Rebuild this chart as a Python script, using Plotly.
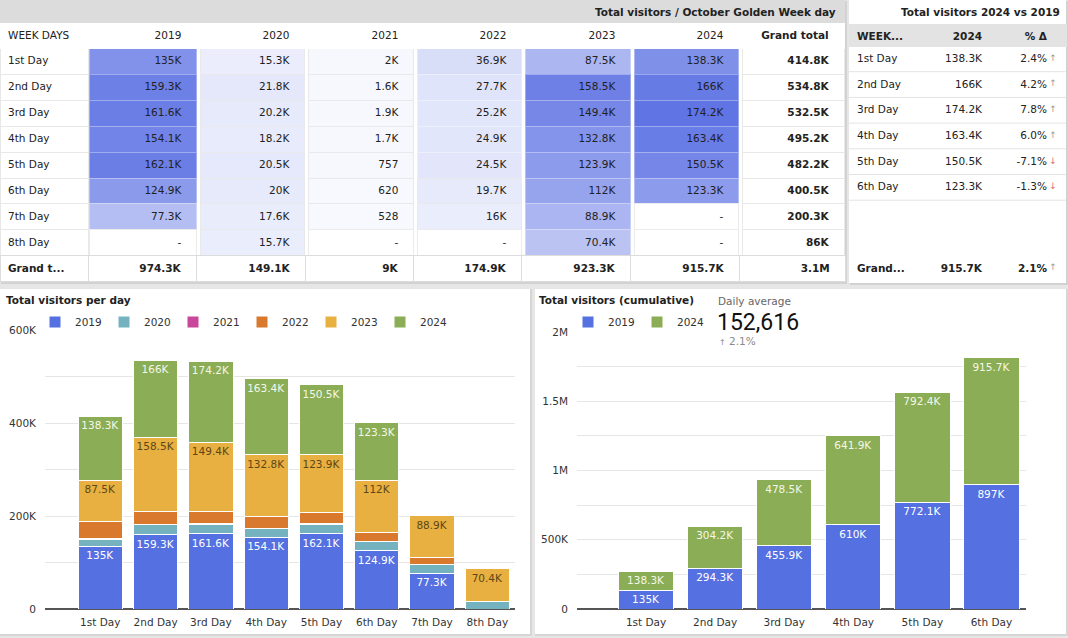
import plotly.graph_objects as go

W, H = 1068, 638
def X(px): return px / W
def Y(py): return 1 - py / H

# ---------------- data ----------------
DAYS = ["1st Day", "2nd Day", "3rd Day", "4th Day", "5th Day", "6th Day", "7th Day", "8th Day"]
YEARS = ["2019", "2020", "2021", "2022", "2023", "2024"]
V2019 = [135000, 159300, 161600, 154100, 162100, 124900, 77300, None]
V2020 = [15300, 21800, 20200, 18200, 20500, 20000, 17600, 15700]
V2021 = [2000, 1600, 1900, 1700, 757, 620, 528, None]
V2022 = [36900, 27700, 25200, 24900, 24500, 19700, 16000, None]
V2023 = [87500, 158500, 149400, 132800, 123900, 112000, 88900, 70400]
V2024 = [138300, 166000, 174200, 163400, 150500, 123300, None, None]
DAY_TOTALS = [414800, 534800, 532500, 495200, 482200, 400500, 200300, 86000]
YEAR_TOTALS = [974300, 149100, 9000, 174900, 923300, 915700]
GRAND_TOTAL = 3100000

CMP_DAYS = ["1st Day", "2nd Day", "3rd Day", "4th Day", "5th Day", "6th Day"]
CMP_2024 = [138300, 166000, 174200, 163400, 150500, 123300]
CMP_PCT = [2.4, 4.2, 7.8, 6.0, -7.1, -1.3]
CMP_TOTAL_2024 = 915700
CMP_TOTAL_PCT = 2.1

CUM_DAYS = ["1st Day", "2nd Day", "3rd Day", "4th Day", "5th Day", "6th Day"]
CUM_2019 = [135000, 294300, 455900, 610000, 772100, 897000]
CUM_2024 = [138300, 304200, 478500, 641900, 792400, 915700]

DAILY_AVG = 152616
DAILY_AVG_PCT = 2.1

Y1_TICKS = [0, 100000, 200000, 300000, 400000, 500000, 600000]
Y1_TEXT = ["0", "", "200K", "", "400K", "", "600K"]
Y2_TICKS = [0, 250000, 500000, 750000, 1000000, 1250000, 1500000, 1750000, 2000000]
Y2_TEXT = ["0", "", "500K", "", "1M", "", "1.5M", "", "2M"]

# ---------------- styling ----------------
FONT = "DejaVu Sans"
FS = 10.5
TXT = "#222222"
COLORS = {"2019": "#5570e1", "2020": "#74b2c0", "2021": "#c8479b",
          "2022": "#d8792e", "2023": "#e8b040", "2024": "#8bad55"}
LABEL_COLORS = {"2019": "#ffffff", "2023": "#5e4716", "2024": "#f3f8e8"}
UP_COLOR = "#9a9a9a"
DOWN_COLOR = "#e06c7c"
NB = "\u00a0"
PAD = NB * 2


def fmt(v):
    if v is None:
        return "-"
    if v >= 1e6:
        s = f"{v/1e6:.1f}".rstrip("0").rstrip(".")
        return s + "M"
    if v >= 1000:
        s = f"{v/1000:.1f}".rstrip("0").rstrip(".")
        return s + "K"
    return str(int(v))


SERIES = [V2019, V2020, V2021, V2022, V2023, V2024]
VMAX = max(v for s in SERIES for v in s if v is not None)
BASE = (84, 106, 226)


def heat(v):
    if v is None:
        return "#ffffff", "#ebebeb"
    t = 0.04 + 0.89 * v / VMAX
    c = tuple(round(255 + (b - 255) * t) for b in BASE)
    if t < 0.16:
        line = "#e9e9ec"
    else:
        l = tuple(round(x + (255 - x) * 0.35) for x in c)
        line = "rgb(%d,%d,%d)" % l
    return "rgb(%d,%d,%d)" % c, line


def tfont(bold=False, size=FS, color=TXT):
    d = dict(family=FONT, size=size, color=color)
    if bold:
        d["weight"] = "bold"
    return d


fig = go.Figure()

# ---------------- cards (background) ----------------
shapes = []
def rect(x0, y0, x1, y1, fill, layer="below"):
    shapes.append(dict(type="rect", xref="paper", yref="paper",
                       x0=X(x0), x1=X(x1), y0=Y(y1), y1=Y(y0),
                       fillcolor=fill, line=dict(width=0), layer=layer))

rect(1, 1, 847, 284, "#d2d2d2")
rect(850, 1, 1068, 285, "#d2d2d2")
rect(0, 289, 532, 636, "#d6d6d6")
rect(535, 289, 1068, 636, "#d6d6d6")
rect(0, 0, 845, 282, "#ffffff")
rect(0, 0, 845, 23, "#dcdcdc")
rect(849, 0, 1066, 283, "#ffffff")
rect(0, 289, 530, 634, "#ffffff")
rect(535, 289, 1066, 634, "#ffffff")

# ---------------- main table ----------------
HEAD_TOP = 23
HEAD_H = 25.5
ROW_H = 25.9
main_bottom = HEAD_TOP + HEAD_H + ROW_H * len(DAYS)

col_spans = [(0, 88.5), (89, 196), (200, 305), (308, 413), (417, 521), (525, 630), (634, 739), (742, 845)]

fig.add_trace(go.Table(
    domain=dict(x=[X(col_spans[0][0]), X(col_spans[0][1])], y=[Y(main_bottom + 6), Y(HEAD_TOP)]),
    header=dict(values=["WEEK" + NB + "DAYS"], align="left", height=HEAD_H,
                fill_color="#ffffff", line=dict(color="#ffffff", width=1), font=tfont()),
    cells=dict(values=[[d.replace(" ", NB) for d in DAYS]], align="left", height=ROW_H,
               fill_color="#ffffff", line=dict(color="#e8e8e8", width=1), font=tfont()),
))

for i, (yr, vals) in enumerate(zip(YEARS, SERIES)):
    fills, lines = zip(*[heat(v) for v in vals])
    x0, x1 = col_spans[i + 1]
    fig.add_trace(go.Table(
        domain=dict(x=[X(x0), X(x1)], y=[Y(main_bottom + 6), Y(HEAD_TOP)]),
        header=dict(values=[yr + PAD], align="right", height=HEAD_H,
                    fill_color="#ffffff", line=dict(color="#ffffff", width=1), font=tfont()),
        cells=dict(values=[[fmt(v) + PAD for v in vals]], align="right", height=ROW_H,
                   fill_color=[list(fills)], line=dict(color=[list(lines)], width=1),
                   font=tfont()),
    ))

x0, x1 = col_spans[-1]
fig.add_trace(go.Table(
    domain=dict(x=[X(x0), X(x1)], y=[Y(main_bottom + 6), Y(HEAD_TOP)]),
    header=dict(values=["Grand" + NB + "total" + PAD], align="right", height=HEAD_H,
                fill_color="#ffffff", line=dict(color="#ffffff", width=1), font=tfont(True)),
    cells=dict(values=[[fmt(v) + PAD for v in DAY_TOTALS]], align="right",
               height=ROW_H, fill_color="#ffffff", line=dict(color="#e8e8e8", width=1),
               font=tfont(True)),
))

grand_bounds = [0, 88.5, 196, 305, 413, 521, 630, 739, 845]
grand_vals = (["Grand" + NB + "t..."] + [fmt(v) + PAD for v in YEAR_TOTALS] + [fmt(GRAND_TOTAL) + PAD])
fig.add_trace(go.Table(
    domain=dict(x=[X(0), X(845)], y=[Y(main_bottom + 34), Y(main_bottom)]),
    columnwidth=[grand_bounds[k + 1] - grand_bounds[k] for k in range(8)],
    header=dict(values=grand_vals, align=["left"] + ["right"] * 7, height=26,
                fill_color="#ffffff", line=dict(color="#dcdcdc", width=1), font=tfont(True)),
    cells=dict(values=[]),
))

annotations = []
def ann(text, x, y, size=FS, color=TXT, xanchor="left", yanchor="middle", family=FONT):
    annotations.append(dict(text=text, x=X(x), y=Y(y), xref="paper", yref="paper",
                            xanchor=xanchor, yanchor=yanchor, showarrow=False,
                            font=dict(family=family, size=size, color=color)))

ann("<b>Total visitors / October Golden Week day</b>", 838, 11.5, xanchor="right")

# ---------------- comparison table ----------------
R_TOP = 24
R_HEAD_H = 22
R_ROW_H = 25.7
r_bottom = R_TOP + R_HEAD_H + R_ROW_H * len(CMP_DAYS)
CLEAR = "rgba(0,0,0,0)"

fig.add_trace(go.Table(
    domain=dict(x=[X(849), X(1066)], y=[Y(r_bottom + 6), Y(R_TOP)]),
    columnwidth=[76, 65, 65, 11],
    header=dict(values=["WEEK...", "2024", "%" + NB + "Δ", ""],
                align=["left", "right", "right", "right"], height=R_HEAD_H,
                fill_color="#e3e3e3", line=dict(color="#e3e3e3", width=1), font=tfont(True)),
    cells=dict(values=[[d.replace(" ", NB) for d in CMP_DAYS], [fmt(v) for v in CMP_2024],
                       [f"{p:.1f}%" for p in CMP_PCT], ["" for p in CMP_PCT]],
               align=["left", "right", "right", "right"], height=R_ROW_H,
               fill_color=CLEAR, line=dict(color=CLEAR, width=0), font=tfont()),
))
fig.add_trace(go.Table(
    domain=dict(x=[X(1044), X(1062)], y=[Y(r_bottom + 6), Y(R_TOP)]),
    header=dict(values=[""], align="center", height=R_HEAD_H,
                fill_color=CLEAR, line=dict(color=CLEAR, width=0), font=tfont()),
    cells=dict(values=[["↑" if p >= 0 else "↓" for p in CMP_PCT]], align="center",
               height=R_ROW_H, fill_color=CLEAR, line=dict(color=CLEAR, width=0),
               font=dict(family=FONT, size=9,
                         color=[[UP_COLOR if p >= 0 else DOWN_COLOR for p in CMP_PCT]])),
))
fig.add_trace(go.Table(
    domain=dict(x=[X(849), X(1066)], y=[Y(main_bottom + 34), Y(main_bottom)]),
    columnwidth=[76, 65, 65, 11],
    header=dict(values=["Grand...", fmt(CMP_TOTAL_2024), f"{CMP_TOTAL_PCT:.1f}%", ""],
                align=["left", "right", "right", "right"], height=26,
                fill_color=CLEAR, line=dict(color=CLEAR, width=0), font=tfont(True)),
    cells=dict(values=[]),
))
fig.add_trace(go.Table(
    domain=dict(x=[X(1044), X(1062)], y=[Y(main_bottom + 34), Y(main_bottom)]),
    header=dict(values=["↑" if CMP_TOTAL_PCT >= 0 else "↓"], align="center", height=26,
                fill_color=CLEAR, line=dict(color=CLEAR, width=0),
                font=dict(family=FONT, size=9, color=UP_COLOR if CMP_TOTAL_PCT >= 0 else DOWN_COLOR)),
    cells=dict(values=[]),
))
for k in range(1, len(CMP_DAYS) + 1):
    yy = R_TOP + R_HEAD_H + R_ROW_H * k
    shapes.append(dict(type="line", xref="paper", yref="paper", x0=X(849), x1=X(1066),
                       y0=Y(yy), y1=Y(yy), line=dict(color="#e4e4e4", width=1), layer="above"))
ann("<b>Total visitors 2024 vs 2019</b>", 1062, 11.5, xanchor="right")

# ---------------- per-day stacked bars ----------------
for yr, vals in zip(YEARS, SERIES):
    labelled = yr in LABEL_COLORS
    fig.add_trace(go.Bar(
        x=DAYS, y=vals, name=yr, marker=dict(color=COLORS[yr], line=dict(color="white", width=1)),
        text=[fmt(v) if (labelled and v is not None) else "" for v in vals],
        textposition="inside", insidetextanchor="end", textangle=0,
        textfont=dict(family=FONT, size=FS, color=LABEL_COLORS.get(yr, "white")),
        xaxis="x", yaxis="y", legend="legend", hoverinfo="skip",
    ))

# ---------------- cumulative stacked bars ----------------
for yr, vals in [("2019", CUM_2019), ("2024", CUM_2024)]:
    fig.add_trace(go.Bar(
        x=CUM_DAYS, y=vals, name=yr, marker=dict(color=COLORS[yr], line=dict(color="white", width=1)),
        text=[fmt(v) for v in vals],
        textposition="inside", insidetextanchor="end", textangle=0,
        textfont=dict(family=FONT, size=FS, color=LABEL_COLORS[yr]),
        xaxis="x2", yaxis="y2", legend="legend2", hoverinfo="skip",
    ))

ann("<b>Total visitors per day</b>", 4, 300)
ann("<b>Total visitors (cumulative)</b>", 537, 300)
ann("Daily average", 716, 301, color="#666666")
ann(f"{DAILY_AVG:,}", 715, 322, size=23, color="#111111", family="Roboto")
ann(f"<span style='font-size:8px'>↑</span> {DAILY_AVG_PCT}%", 717, 341, size=FS, color="#8a8a8a")

axis_common = dict(showline=False, ticks="", tickfont=dict(family=FONT, size=FS, color="#333"),
                   fixedrange=True, automargin=False)
legend_common = dict(orientation="h", xanchor="left", yanchor="middle",
                     font=dict(family=FONT, size=FS, color="#333"), bgcolor="rgba(0,0,0,0)",
                     entrywidth=24, entrywidthmode="pixels", traceorder="normal",
                     itemclick=False, itemdoubleclick=False)

fig.update_layout(
    width=W, height=H, margin=dict(l=0, r=0, t=0, b=0, autoexpand=False),
    paper_bgcolor="#e6e6e6", plot_bgcolor="#ffffff",
    font=dict(family=FONT, size=FS, color=TXT),
    barmode="stack", bargap=0.2,
    uniformtext=dict(minsize=FS, mode="show"),
    xaxis=dict(domain=[X(45), X(515)], range=[-1.0, 7.5], type="category", anchor="y",
               showgrid=False, ticklabelstandoff=5, **axis_common),
    yaxis=dict(domain=[Y(609), Y(330)], range=[0, 600000], anchor="x",
               tickmode="array", tickvals=Y1_TICKS, ticktext=Y1_TEXT, ticklabelstandoff=8,
               showgrid=True, gridcolor="#e6e6e6", gridwidth=1,
               zeroline=True, zerolinecolor="#555555", zerolinewidth=1.5, **axis_common),
    xaxis2=dict(domain=[X(577), X(1026)], range=[-1.0, 5.5], type="category", anchor="y2",
                showgrid=False, ticklabelstandoff=5, **axis_common),
    yaxis2=dict(domain=[Y(609), Y(332)], range=[0, 2000000], anchor="x2",
                tickmode="array", tickvals=Y2_TICKS, ticktext=Y2_TEXT, ticklabelstandoff=8,
                showgrid=True, gridcolor="#e6e6e6", gridwidth=1,
                zeroline=True, zerolinecolor="#555555", zerolinewidth=1.5, **axis_common),
    legend=dict(x=X(35), y=Y(322), **legend_common),
    legend2=dict(x=X(568), y=Y(322), **legend_common),
    shapes=shapes,
    annotations=annotations,
    showlegend=True,
)

fig.write_html("out.html", include_plotlyjs=True, full_html=True,
               config={"displayModeBar": False},
               post_script="document.body.style.margin='0';document.body.style.overflow='hidden';")
